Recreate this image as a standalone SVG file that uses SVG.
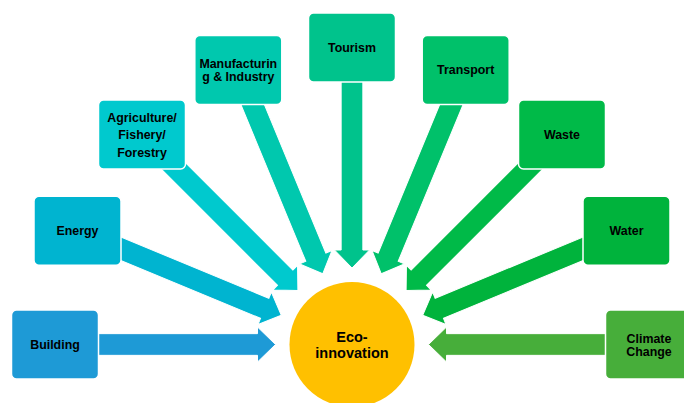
<svg xmlns="http://www.w3.org/2000/svg" xmlns:xlink="http://www.w3.org/1999/xlink" width="684" height="403" viewBox="0 0 684 403">
<style>
.box{stroke:#ffffff;stroke-width:1.5}
.arr{stroke:#ffffff;stroke-width:1}
.lbl{font-family:"Liberation Sans",Arial,sans-serif;font-weight:bold;font-size:12.4px;fill:#000000;text-anchor:middle}
.core{font-family:"Liberation Sans",Arial,sans-serif;font-weight:bold;font-size:14.5px;fill:#000000;text-anchor:middle}
</style>
<defs>
<path id="arrow" d="M -297 -10.85 L -94.5 -10.85 L -94.5 -17.5 L -76.5 0 L -94.5 17.5 L -94.5 10.85 L -297 10.85 Z"/>
</defs>
<rect width="684" height="403" fill="#ffffff"/>
<g id="connectors">
<use xlink:href="#arrow" class="arr" fill="#1E9AD6" transform="translate(352,344.5) rotate(0)"/>
<use xlink:href="#arrow" class="arr" fill="#00B4D0" transform="translate(352,344.5) rotate(22.5)"/>
<use xlink:href="#arrow" class="arr" fill="#00C9CE" transform="translate(352,344.5) rotate(45)"/>
<use xlink:href="#arrow" class="arr" fill="#00C8AE" transform="translate(352,344.5) rotate(67.5)"/>
<use xlink:href="#arrow" class="arr" fill="#00C38C" transform="translate(352,344.5) rotate(90)"/>
<use xlink:href="#arrow" class="arr" fill="#00C16A" transform="translate(352,344.5) rotate(112.5)"/>
<use xlink:href="#arrow" class="arr" fill="#00BA48" transform="translate(352,344.5) rotate(135)"/>
<use xlink:href="#arrow" class="arr" fill="#00B33C" transform="translate(352,344.5) rotate(157.5)"/>
<use xlink:href="#arrow" class="arr" fill="#47AE3A" transform="translate(352,344.5) rotate(180)"/>
</g>
<g id="eco-innovation">
<circle cx="352" cy="344.5" r="62.5" fill="#FFC000"/>
<text class="core" x="352" y="342">Eco-</text>
<text class="core" x="352" y="357.7">innovation</text>
</g>
<g id="building">
<rect class="box" x="11.5" y="310" width="87" height="69" rx="5" fill="#1E9AD6"/>
<text class="lbl" x="55" y="348.8">Building</text>
</g>
<g id="energy">
<rect class="box" x="34" y="196.3" width="87" height="69" rx="5" fill="#00B4D0"/>
<text class="lbl" x="77.5" y="235">Energy</text>
</g>
<g id="agriculture">
<rect class="box" x="98.5" y="100" width="87" height="69" rx="5" fill="#00C9CE"/>
<text class="lbl" x="142" y="121.7">Agriculture/</text>
<text class="lbl" x="142" y="139.2">Fishery/</text>
<text class="lbl" x="142" y="156.7">Forestry</text>
</g>
<g id="manufacturing">
<rect class="box" x="194.8" y="35.6" width="87" height="69" rx="5" fill="#00C8AE"/>
<text class="lbl" x="238.3" y="67.5">Manufacturin</text>
<text class="lbl" x="238.3" y="81">g &amp; Industry</text>
</g>
<g id="tourism">
<rect class="box" x="308.5" y="13" width="87" height="69" rx="5" fill="#00C38C"/>
<text class="lbl" x="352" y="51.5">Tourism</text>
</g>
<g id="transport">
<rect class="box" x="422.2" y="35.6" width="87" height="69" rx="5" fill="#00C16A"/>
<text class="lbl" x="465.7" y="74.2">Transport</text>
</g>
<g id="waste">
<rect class="box" x="518.5" y="100" width="87" height="69" rx="5" fill="#00BA48"/>
<text class="lbl" x="562" y="138.8">Waste</text>
</g>
<g id="water">
<rect class="box" x="583" y="196.3" width="87" height="69" rx="5" fill="#00B33C"/>
<text class="lbl" x="626.5" y="235">Water</text>
</g>
<g id="climate-change">
<rect class="box" x="605.5" y="310" width="87" height="69" rx="5" fill="#47AE3A"/>
<text class="lbl" x="649" y="343.3">Climate</text>
<text class="lbl" x="649" y="356.3">Change</text>
</g>
</svg>
